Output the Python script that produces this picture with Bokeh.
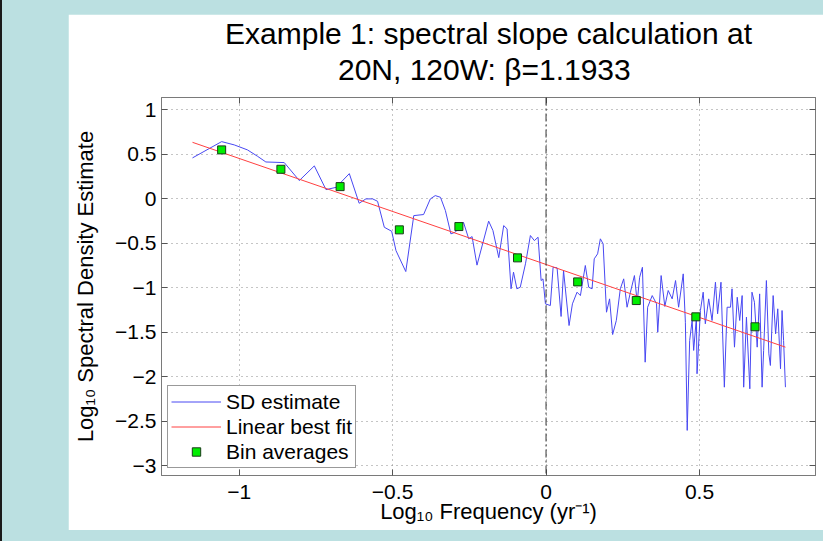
from bokeh.plotting import figure
from bokeh.models import Range1d, FixedTicker, LinearAxis, Span, Legend, LegendItem, Title
from bokeh.layouts import column
from bokeh.embed import file_html
from bokeh.resources import INLINE

# ---- data ----
sd_x = [-1.152, -1.057, -1.016, -0.973, -0.940, -0.913, -0.853, -0.804, -0.755, -0.717,
        -0.684, -0.641, -0.609, -0.587, -0.565, -0.549, -0.527, -0.503, -0.489, -0.457,
        -0.431, -0.399, -0.377, -0.361, -0.344, -0.328, -0.310, -0.296, -0.269, -0.252,
        -0.241, -0.225, -0.187, -0.173, -0.154, -0.138, -0.127, -0.114, -0.106, -0.095,
        -0.084, -0.067, -0.051, -0.038, -0.026, -0.016, -0.010, -0.002, 0.014, 0.023,
        0.036, 0.049, 0.057, 0.075, 0.086, 0.101, 0.112, 0.128, 0.139, 0.150,
        0.157, 0.168, 0.177, 0.186, 0.197, 0.207, 0.217, 0.229, 0.242, 0.253,
        0.264, 0.275, 0.288, 0.297, 0.305, 0.314, 0.323, 0.331, 0.346, 0.360,
        0.364, 0.375, 0.387, 0.398, 0.411, 0.422, 0.432, 0.447, 0.454, 0.460,
        0.468, 0.476, 0.481, 0.490, 0.492, 0.503, 0.512, 0.519, 0.530, 0.541,
        0.552, 0.559, 0.570, 0.581, 0.590, 0.601, 0.606, 0.614, 0.623, 0.631,
        0.639, 0.644, 0.653, 0.664, 0.671, 0.679, 0.688, 0.696, 0.704, 0.709,
        0.718, 0.726, 0.731, 0.740, 0.748, 0.755, 0.764, 0.769, 0.774, 0.780]
sd_y = [0.461, 0.644, 0.607, 0.551, 0.479, 0.415, 0.408, 0.206, 0.371, 0.104,
        0.130, 0.284, -0.049, 0.000, 0.000, -0.027, -0.319, -0.364, -0.581, -0.817,
        -0.188, -0.176, 0.000, 0.037, 0.018, -0.131, -0.393, -0.375, -0.263, -0.449,
        -0.424, -0.745, -0.250, -0.356, -0.660, -0.300, -0.337, -1.011, -0.824, -1.011,
        -0.993, -0.730, -0.412, -0.469, -0.431, -0.918, -0.899, -1.180, -1.199, -0.769,
        -0.775, -1.322, -0.806, -1.424, -1.180, -1.049, -1.087, -0.749, -0.993, -1.011,
        -0.674, -0.618, -0.449, -0.506, -1.274, -1.124, -1.525, -1.367, -1.011, -0.899,
        -1.218, -1.049, -0.862, -1.162, -0.881, -0.769, -1.836, -1.218, -1.087, -1.180,
        -1.499, -0.862, -1.209, -1.030, -1.124, -0.918, -1.218, -0.843, -1.387, -2.603,
        -1.592, -1.367, -1.704, -1.330, -1.966, -1.255, -1.049, -1.404, -1.124, -1.367,
        -0.937, -1.292, -0.937, -2.117, -1.218, -1.218, -1.011, -1.667, -1.106, -1.367,
        -1.087, -2.117, -1.330, -2.135, -1.049, -1.162, -1.667, -1.068, -2.117, -1.704,
        -0.918, -1.742, -1.873, -1.087, -1.517, -1.236, -1.910, -1.255, -1.592, -2.117]

fit_x = [-1.152, 0.780]
fit_y = [0.636, -1.667]

bin_x = [-1.057, -0.864, -0.671, -0.478, -0.284, -0.093, 0.103, 0.294, 0.488, 0.681]
bin_y = [0.551, 0.333, 0.138, -0.348, -0.311, -0.663, -0.933, -1.143, -1.326, -1.438]

x_ticks = [-1, -0.5, 0, 0.5]
x_tick_labels = ["\u22121", "\u22120.5", "0", "0.5"]
y_ticks = [-3, -2.5, -2, -1.5, -1, -0.5, 0, 0.5, 1]
y_tick_labels = ["\u22123", "\u22122.5", "\u22122", "\u22121.5", "\u22121", "\u22120.5", "0", "0.5", "1"]

title_line1 = "Example 1: spectral slope calculation at"
title_line2 = "20N, 120W:  \u03b2=1.1933"
x_label = "Log\u2081\u2080 Frequency (yr\u207b\u00b9)"
y_label = "Log\u2081\u2080 Spectral Density Estimate"

FONT = "Liberation Sans"
GRID = "#8a8a8a"
FRAME = "#7a7a7a"

p = figure(width=755, height=516, output_backend="svg", toolbar_location=None,
           title=None,
           x_range=Range1d(-1.253, 0.878), y_range=Range1d(-3.11, 1.14),
           min_border_left=93, min_border_right=8, min_border_top=83, min_border_bottom=55,
           background_fill_color="white", border_fill_color="white",
           outline_line_color=FRAME, outline_line_width=1)

for ax, ticks, labels in ((p.xaxis[0], x_ticks, x_tick_labels), (p.yaxis[0], y_ticks, y_tick_labels)):
    ax.ticker = FixedTicker(ticks=ticks)
    ax.major_label_overrides = {t: l for t, l in zip(ticks, labels)}
    ax.major_label_text_font = FONT
    ax.major_label_text_font_size = "21px"
    ax.major_label_text_color = "black"
    ax.axis_label_text_font = FONT
    ax.axis_label_text_font_size = "22px"
    ax.axis_label_text_font_style = "normal"
    ax.axis_label_text_color = "black"
    ax.axis_line_color = FRAME
    ax.major_tick_line_color = "#555555"
    ax.major_tick_in = 6
    ax.major_tick_out = 0
    ax.minor_tick_line_color = None

p.xaxis.axis_label = x_label
p.yaxis.axis_label = y_label
p.xaxis.major_label_standoff = 9
p.xaxis.axis_label_standoff = -3
p.yaxis.major_label_standoff = 5
p.yaxis.axis_label_standoff = 14

# box ticks on the right and top (no labels)
for loc, ticks in (("right", y_ticks), ("above", x_ticks)):
    ax2 = LinearAxis(ticker=FixedTicker(ticks=ticks), major_label_text_font_size="0px",
                     major_label_text_color=None, major_label_standoff=0,
                     axis_line_color=FRAME, major_tick_line_color="#555555",
                     major_tick_in=6, major_tick_out=0, minor_tick_line_color=None)
    p.add_layout(ax2, loc)

# invisible spacer between the plot box and the title lines
spacer = LinearAxis(ticker=FixedTicker(ticks=x_ticks), major_label_text_font_size="0px",
                    major_label_text_color=None, major_label_standoff=0,
                    axis_line_color=None, major_tick_line_color=None,
                    major_tick_in=0, major_tick_out=11, minor_tick_line_color=None,
                    minor_tick_out=0)
p.add_layout(spacer, "above")

# two centred title lines (first added sits closest to the plot)
p.add_layout(Title(text=title_line2, align="center", text_font=FONT, text_font_size="30px",
                   text_font_style="normal", text_color="black", standoff=2), "above")
p.add_layout(Title(text=title_line1, align="center", text_font=FONT, text_font_size="30px",
                   text_font_style="normal", text_color="black", standoff=0), "above")

p.xgrid.grid_line_color = GRID
p.xgrid.grid_line_dash = "1 4"
p.ygrid.grid_line_color = GRID
p.ygrid.grid_line_dash = "1 4"

p.add_layout(Span(location=0, dimension="height", line_color="#333333",
                  line_dash="8 3 2 3", line_width=1))

r_sd = p.line(sd_x, sd_y, line_color="#4848f2", line_width=1)
r_fit = p.line(fit_x, fit_y, line_color="#ff4040", line_width=1)
r_bin = p.scatter(bin_x, bin_y, marker="square", size=8, fill_color="#00ee00",
                  line_color="#1a3a1a", line_width=1)

legend = Legend(items=[LegendItem(label="SD estimate", renderers=[r_sd]),
                       LegendItem(label="Linear best fit", renderers=[r_fit]),
                       LegendItem(label="Bin averages", renderers=[r_bin])],
                location=(6, 7), label_text_font=FONT, label_text_font_size="21px",
                label_text_line_height=1.0,
                label_text_color="black", glyph_width=50, glyph_height=21,
                label_height=25, spacing=0, padding=3, margin=0, label_standoff=5,
                border_line_color="#333333", border_line_width=1,
                background_fill_color="white", background_fill_alpha=1)
p.add_layout(legend)

p.margin = (14, 0, 11, 66)
layout = column(p, styles={"background-color": "#bbe0e1",
                           "border-left": "2px solid #1a1a1a"})

open("out.html", "w").write(file_html(layout, INLINE))
